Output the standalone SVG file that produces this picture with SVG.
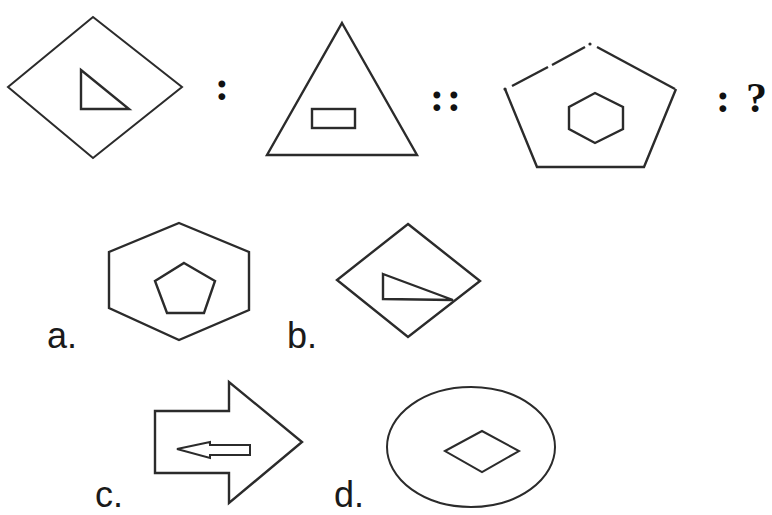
<svg xmlns="http://www.w3.org/2000/svg" width="772" height="515" viewBox="0 0 772 515">
<style>
.s{fill:none;stroke:#2b2b2b;stroke-width:2;stroke-linejoin:miter}
.t{stroke-width:2.4}
.p{font-family:"Liberation Serif",serif;font-weight:bold;font-size:42px;fill:#111}
.l{font-family:"Liberation Sans",Arial,sans-serif;font-size:36px;fill:#1a1a1a}
</style>
<rect width="772" height="515" fill="#fff"/>
<g id="fig1">
<polygon class="s" points="93,17 182,87 93,158 8,87"/>
<polygon class="s t" points="81,70 129,109 81,109"/>
</g>
<text id="colon1" class="p" x="222" y="100" text-anchor="middle">:</text>
<g id="fig2">
<polygon class="s t" points="342,23 417,155 267,155"/>
<rect class="s t" x="312" y="109" width="43" height="19"/>
</g>
<text id="colon2" class="p" x="430" y="111" letter-spacing="3">::</text>
<g id="fig3">
<polyline class="s t" points="505,89 537,167 644,167 676,89"/>
<line class="s t" x1="512" y1="86" x2="548" y2="67"/>
<line class="s t" x1="552" y1="65" x2="585" y2="47"/>
<line class="s t" x1="597" y1="47" x2="675" y2="89"/>
<circle cx="505" cy="89" r="1.6" fill="#2b2b2b"/>
<circle cx="590" cy="44" r="1.6" fill="#2b2b2b"/>
<polygon class="s t" points="595,93 623,107 623,129 595,143 569,129 569,107"/>
</g>
<text id="q" class="p" x="716" y="112">:<tspan x="746">?</tspan></text>
<g id="optA">
<polygon class="s t" points="179,223 249,252 249,310 179,340 109,308 109,252"/>
<polygon class="s t" points="184,263 215,281 204,313 167,313 155,281"/>
<text class="l" x="47" y="348">a.</text>
</g>
<g id="optB">
<polygon class="s t" points="408,224 480,281 408,337 337,280"/>
<polygon class="s t" points="383,274 453,300 383,299"/>
<text class="l" x="287" y="348">b.</text>
</g>
<g id="optC">
<polygon class="s t" points="155,411 229,411 229,382 302,442 229,503 229,473 155,473"/>
<polygon class="s" points="177,449 210,442 210,445 250,445 250,455 210,455 210,458"/>
<text class="l" x="95" y="507">c.</text>
</g>
<g id="optD">
<ellipse class="s" cx="471" cy="447" rx="84" ry="60"/>
<polygon class="s" points="445,451 482,431 519,451 482,472"/>
<text class="l" x="334" y="507">d.</text>
</g>
</svg>
